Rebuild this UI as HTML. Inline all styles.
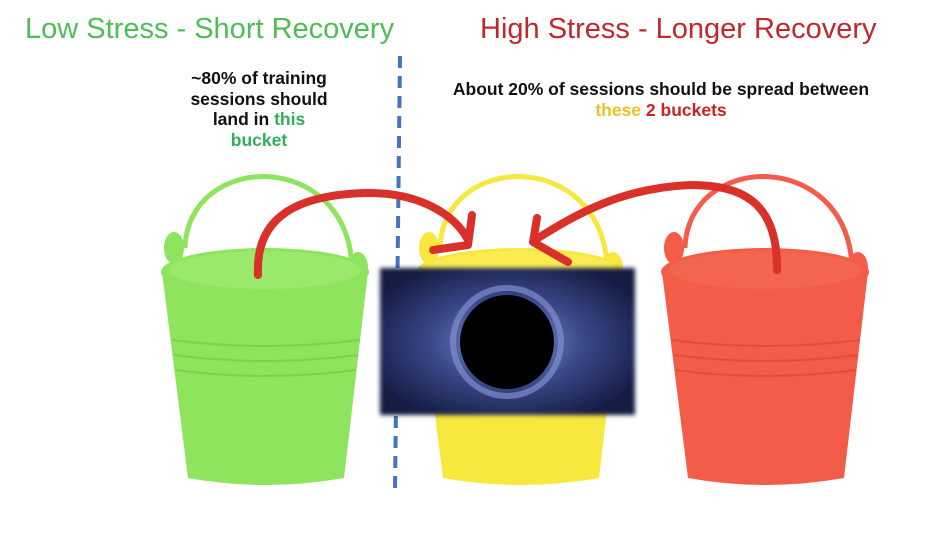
<!DOCTYPE html>
<html><head><style>
body{margin:0;width:945px;height:549px;background:#fff;overflow:hidden;position:relative;font-family:"Liberation Sans",sans-serif}
.t{position:absolute;white-space:nowrap}
</style></head><body>
<svg width="945" height="549" style="position:absolute;left:0;top:0">
<defs>
<g id="bk">
<path d="M25,88 C28,-8 185,-12 192,105" fill="none" stroke="var(--c)" stroke-width="5"/>
<ellipse cx="14" cy="88" rx="10" ry="16" fill="var(--c)"/>
<ellipse cx="198" cy="108" rx="10" ry="16" fill="var(--c)"/>
<path d="M2,112 L28,318 Q105,332 184,318 L208,112 Z" fill="var(--c)"/>
<ellipse cx="105" cy="112" rx="104" ry="24" fill="var(--c)"/>
<ellipse cx="105" cy="110" rx="96" ry="19" fill="var(--e)" opacity=".6"/>
<path d="M12,180 Q105,192 200,180 M14,195 Q105,207 198,195 M16,210 Q105,222 196,210" fill="none" stroke="var(--d)" stroke-width="2" opacity=".6"/>
</g>
<radialGradient id="bh" cx="50%" cy="50%" r="60%">
<stop offset="0" stop-color="#8a9ad8"/><stop offset=".5" stop-color="#3a4788"/><stop offset="1" stop-color="#141a40"/>
</radialGradient>
<filter id="bl"><feGaussianBlur stdDeviation="2"/></filter>
</defs>
<use href="#bk" x="160" y="160" style="--c:#8ee45c;--d:#6fc63e;--e:#a2ec74"/>
<use href="#bk" x="415" y="160" style="--c:#f8e83e;--d:#e3cf20;--e:#fbef60"/>
<use href="#bk" x="660" y="160" style="--c:#f25c48;--d:#d8432f;--e:#f46a55"/>
<line x1="400" y1="56" x2="395" y2="490" stroke="#4472c4" stroke-width="4" stroke-dasharray="12,8"/>
<rect x="380" y="268" width="255" height="147" fill="url(#bh)" filter="url(#bl)"/>
<circle cx="507" cy="342" r="54" fill="none" stroke="#7f8fd0" stroke-width="6" opacity=".7"/>
<circle cx="507" cy="342" r="47" fill="#000"/>
<g fill="none" stroke="#d9302a" stroke-width="8" stroke-linecap="round" stroke-linejoin="round">
<path d="M258,275 C255,215 300,195 365,193 C420,192 455,215 468,240"/>
<path d="M433,250 L468,245 L472,215"/>
<path d="M777,270 C778,200 740,185 690,185 C620,188 575,215 535,240"/>
<path d="M537,218 L533,242 L568,262"/>
</g>
</svg>
<div class="t" style="left:25px;top:13px;font-size:29px;color:#4fbd55">Low Stress - Short Recovery</div>
<div class="t" style="left:480px;top:13px;font-size:29px;color:#c0282e">High Stress - Longer Recovery</div>
<div class="t" style="left:159px;top:68px;width:200px;text-align:center;font-size:17.5px;font-weight:bold;line-height:20.5px;color:#111">~80% of training<br>sessions should<br>land in <span style="color:#2eb05b">this</span><br><span style="color:#2eb05b">bucket</span></div>
<div class="t" style="left:411px;top:79px;width:500px;text-align:center;font-size:17.5px;font-weight:bold;line-height:20.5px;color:#111">About 20% of sessions should be spread between<br><span style="color:#f0c020">these</span> <span style="color:#d02020">2 buckets</span></div>
</body></html>
